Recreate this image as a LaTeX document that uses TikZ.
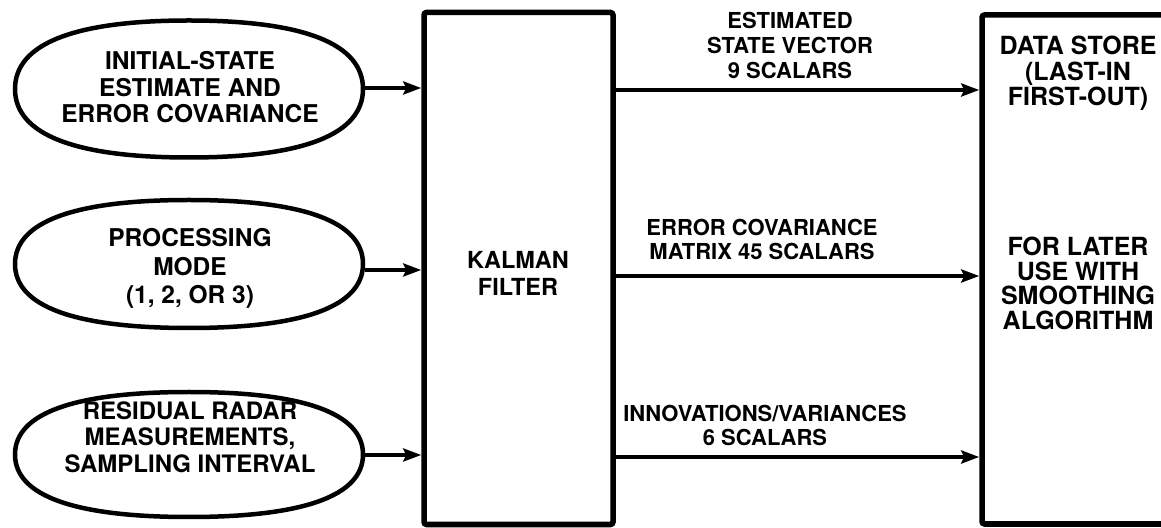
\documentclass[tikz,border=0pt]{standalone}
\usepackage{fontspec}
\setmainfont{TeX Gyre Heros}
\usetikzlibrary{arrows.meta}
\begin{document}
\begin{tikzpicture}[x=1pt,y=1pt,
  ell/.style={draw, line width=4.5pt},
  pics/oval/.style args={#1/#2}{code={%
    \draw[ell] (#1,0) .. controls (#1,0.66*#2) and (0.66*#1,#2) .. (0,#2)
      .. controls (-0.66*#1,#2) and (-#1,0.66*#2) .. (-#1,0)
      .. controls (-#1,-0.66*#2) and (-0.66*#1,-#2) .. (0,-#2)
      .. controls (0.66*#1,-#2) and (#1,-0.66*#2) .. (#1,0) -- cycle;}},
  blk/.style={draw, line width=5.5pt, rounded corners=2.5pt, inner sep=0pt},
  txt/.style={align=center, inner sep=0pt},
  big/.style={txt, font=\bfseries\fontsize{24.5}{26.5}\selectfont},
  lab/.style={txt, font=\bfseries\fontsize{22}{24}\selectfont},
  arr/.style={line width=4pt, -{Stealth[length=18pt,width=13pt,inset=3pt]}}]
\useasboundingbox (0,0) rectangle (1161,527);
% input ovals
\pic at (189,438) {oval=174/68.5};
\pic at (189,263) {oval=174/64};
\pic at (189,72.5) {oval=174/62.5};
\node[big] (t1) at (190,439.5) {INITIAL-STATE\\ESTIMATE AND\\ERROR COVARIANCE};
\node[big, font=\bfseries\fontsize{24.5}{28.5}\selectfont] (t2) at (190,258.5) {PROCESSING\\MODE\\(1, 2, OR 3)};
\node[big, font=\bfseries\fontsize{24}{26.5}\selectfont] (t3) at (190,90) {RESIDUAL RADAR\\MEASUREMENTS,\\SAMPLING INTERVAL};
% oval exits (right edges of the ovals, at the arrow rows)
\coordinate (e1) at (365,439);
\coordinate (e2) at (365,257);
\coordinate (e3) at (365,72);
% Kalman filter box
\node[blk, minimum width=189pt, minimum height=512pt] (kf) at (518.5,258.5) {};
\node[txt, font=\bfseries\fontsize{23.5}{27}\selectfont] (kt) at (518,253.5) {KALMAN\\FILTER};
% data store box (right edge beyond the page)
\node[blk, minimum width=198pt, minimum height=509pt] (ds) at (1081,257.5) {};
\node[txt, font=\bfseries\fontsize{25}{25.5}\selectfont] (dt1) at (1078,453.5) {DATA STORE\\(LAST-IN\\FIRST-OUT)};
\node[txt, font=\bfseries\fontsize{25}{24.5}\selectfont] (dt2) at (1078,243.5) {FOR LATER\\USE WITH\\SMOOTHING\\ALGORITHM};
% output labels
\node[lab, font=\bfseries\fontsize{22}{25}\selectfont] (l1) at (790,482) {ESTIMATED\\STATE VECTOR\\9 SCALARS};
\node[lab, font=\bfseries\fontsize{22}{23.5}\selectfont] (l2) at (762,287.5) {ERROR COVARIANCE\\MATRIX 45 SCALARS};
\node[lab] (l3) at (765,102) {INNOVATIONS/VARIANCES\\6 SCALARS};
% output rows
\coordinate (o1) at (0,437);
\coordinate (o2) at (0,251);
\coordinate (o3) at (0,70);
% inputs
\draw[arr] (e1) -- (kf.west |- e1);
\draw[arr] (e2) -- (kf.west |- e2);
\draw[arr] (e3) -- (kf.west |- e3);
% outputs
\draw[arr] (kf.east |- o1) -- (ds.west |- o1);
\draw[arr] (kf.east |- o2) -- (ds.west |- o2);
\draw[arr] (kf.east |- o3) -- (ds.west |- o3);
\end{tikzpicture}
\end{document}
